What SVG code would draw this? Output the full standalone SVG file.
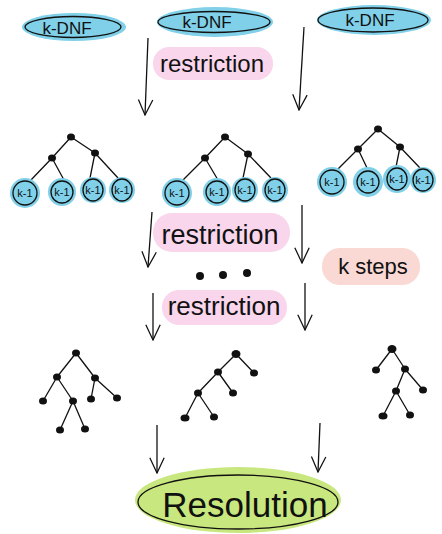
<svg xmlns="http://www.w3.org/2000/svg" width="442" height="534" viewBox="0 0 442 534">
<defs>
<style>
.blue{fill:#7fd0e8}
.pink{fill:#f9d6ec}
.salmon{fill:#fad8d3}
.green{fill:#c8e77e}
.outline{fill:none;stroke:#111;stroke-width:1.3}
.t{font-family:"Liberation Sans",Arial,sans-serif;fill:#111;text-anchor:middle}
.edge{stroke:#111;stroke-width:1.3;fill:none}
.arrow{stroke:#111;stroke-width:1.3;fill:none;marker-end:url(#v)}
.dot{fill:#111}
</style>
<marker id="v" viewBox="0 0 20 20" refX="19" refY="10" markerWidth="18" markerHeight="18" markerUnits="userSpaceOnUse" orient="auto">
<path d="M2,2 L19,10 L2,18" fill="none" stroke="#111" stroke-width="1.4"/>
</marker>
</defs>
<rect width="442" height="534" fill="#fff"/>

<g id="connectors">
<path class="arrow" d="M148,38 L145,115"/>
<path class="arrow" d="M304,27 L299,110"/>
<path class="arrow" d="M152,212 L148,267"/>
<path class="arrow" d="M302,205 L302,263"/>
<path class="arrow" d="M153,293 L153,340"/>
<path class="arrow" d="M305,283 L305,330"/>
<path class="arrow" d="M157,425 L157,473"/>
<path class="arrow" d="M320,423 L318,472"/>
<path class="edge" d="M71,137 L52,158 M71,137 L95,153 M52,158 L30,181 M52,158 L64,180 M95,153 L90,178 M95,153 L118,178"/>
<path class="edge" d="M225,137 L205,158 M225,137 L248,154 M205,158 L182,181 M205,158 L218,180 M248,154 L243,178 M248,154 L271,178"/>
<path class="edge" d="M378,129 L358,149 M378,129 L400,147 M358,149 L337,170 M358,149 L368,170 M400,147 L396,167 M400,147 L420,168"/>
<path class="edge" d="M76,353 L57,377 M76,353 L95,378 M57,377 L43,401 M57,377 L73,401 M95,378 L91,399 M95,378 L117,398 M73,401 L60,430 M73,401 L85,429"/>
<path class="edge" d="M236,354 L218,372 M236,354 L254,373 M218,372 L198,393 M218,372 L233,393 M198,393 L185,418 M198,393 L214,417"/>
<path class="edge" d="M392,349 L376,370 M392,349 L405,369 M405,369 L396,391 M405,369 L423,390 M396,391 L383,416 M396,391 L410,415"/>
</g>

<g id="kdnf1">
<ellipse class="blue" cx="74" cy="27" rx="52" ry="14"/>
<ellipse class="outline" cx="73" cy="27" rx="48" ry="10.5"/>
<text class="t" x="67" y="34" font-size="17">k-DNF</text>
</g>
<g id="kdnf2">
<ellipse class="blue" cx="215" cy="22" rx="58" ry="15"/>
<ellipse class="outline" cx="214" cy="22" rx="56" ry="10.5"/>
<text class="t" x="207" y="28" font-size="17">k-DNF</text>
</g>
<g id="kdnf3">
<ellipse class="blue" cx="374" cy="20" rx="57" ry="15"/>
<ellipse class="outline" cx="373" cy="20" rx="55" ry="12"/>
<text class="t" x="370" y="26" font-size="17">k-DNF</text>
</g>

<g id="restriction1">
<rect class="pink" x="153" y="47" width="120" height="33" rx="16"/>
<text class="t" x="212" y="72" font-size="24">restriction</text>
</g>

<g id="tree1">
<circle class="blue" cx="25" cy="193" r="15"/>
<circle class="blue" cx="62" cy="192" r="14"/>
<circle class="blue" cx="93" cy="190" r="13"/>
<circle class="blue" cx="122" cy="190" r="13"/>
<ellipse class="outline" cx="25" cy="193" rx="12" ry="12"/>
<ellipse class="outline" cx="62" cy="192" rx="11" ry="11"/>
<ellipse class="outline" cx="93" cy="190" rx="10" ry="11"/>
<ellipse class="outline" cx="122" cy="190" rx="10" ry="11"/>
<text class="t" x="25" y="197" font-size="11">k-1</text>
<text class="t" x="62" y="196" font-size="11">k-1</text>
<text class="t" x="93" y="194" font-size="11">k-1</text>
<text class="t" x="122" y="194" font-size="11">k-1</text>
<ellipse class="dot" cx="71" cy="137" rx="4" ry="3.5"/>
<ellipse class="dot" cx="52" cy="158" rx="4" ry="3.5"/>
<ellipse class="dot" cx="95" cy="153" rx="4" ry="3.5"/>
</g>
<g id="tree2">
<circle class="blue" cx="177" cy="193" r="15"/>
<circle class="blue" cx="217" cy="192" r="14"/>
<circle class="blue" cx="245" cy="190" r="13"/>
<circle class="blue" cx="275" cy="190" r="13"/>
<ellipse class="outline" cx="177" cy="193" rx="12" ry="12"/>
<ellipse class="outline" cx="217" cy="192" rx="11" ry="11"/>
<ellipse class="outline" cx="245" cy="190" rx="10" ry="11"/>
<ellipse class="outline" cx="275" cy="190" rx="10" ry="11"/>
<text class="t" x="177" y="197" font-size="11">k-1</text>
<text class="t" x="217" y="196" font-size="11">k-1</text>
<text class="t" x="245" y="194" font-size="11">k-1</text>
<text class="t" x="275" y="194" font-size="11">k-1</text>
<ellipse class="dot" cx="225" cy="137" rx="4" ry="3.5"/>
<ellipse class="dot" cx="205" cy="158" rx="4" ry="3.5"/>
<ellipse class="dot" cx="248" cy="154" rx="4" ry="3.5"/>
</g>
<g id="tree3">
<circle class="blue" cx="332" cy="182" r="15"/>
<circle class="blue" cx="368" cy="182" r="15"/>
<circle class="blue" cx="397" cy="179" r="14"/>
<circle class="blue" cx="423" cy="180" r="13"/>
<ellipse class="outline" cx="332" cy="182" rx="12" ry="12"/>
<ellipse class="outline" cx="368" cy="182" rx="11" ry="11"/>
<ellipse class="outline" cx="397" cy="179" rx="10" ry="11"/>
<ellipse class="outline" cx="423" cy="180" rx="10" ry="11"/>
<text class="t" x="332" y="186" font-size="11">k-1</text>
<text class="t" x="368" y="186" font-size="11">k-1</text>
<text class="t" x="397" y="183" font-size="11">k-1</text>
<text class="t" x="423" y="184" font-size="11">k-1</text>
<ellipse class="dot" cx="378" cy="129" rx="4" ry="3.5"/>
<ellipse class="dot" cx="358" cy="149" rx="4" ry="3.5"/>
<ellipse class="dot" cx="400" cy="147" rx="4" ry="3.5"/>
</g>

<g id="restriction2">
<rect class="pink" x="153" y="213" width="137" height="39" rx="19"/>
<text class="t" x="220" y="244" font-size="27">restriction</text>
</g>
<g id="ksteps">
<rect class="salmon" x="322" y="248" width="98" height="37" rx="18"/>
<text class="t" x="373" y="274" font-size="22">k steps</text>
</g>
<g id="ellipsis">
<circle class="dot" cx="200" cy="276" r="4"/>
<circle class="dot" cx="223" cy="275" r="4"/>
<circle class="dot" cx="247" cy="273" r="4"/>
</g>
<g id="restriction3">
<rect class="pink" x="162" y="290" width="125" height="35" rx="17"/>
<text class="t" x="224" y="315" font-size="26">restriction</text>
</g>

<g id="treeA">
<ellipse class="dot" cx="76" cy="353" rx="4" ry="3.5"/>
<ellipse class="dot" cx="57" cy="377" rx="4" ry="3.5"/>
<ellipse class="dot" cx="95" cy="378" rx="4" ry="3.5"/>
<ellipse class="dot" cx="43" cy="401" rx="4" ry="3.5"/>
<ellipse class="dot" cx="73" cy="401" rx="4" ry="3.5"/>
<ellipse class="dot" cx="91" cy="399" rx="4" ry="3.5"/>
<ellipse class="dot" cx="117" cy="398" rx="4" ry="3.5"/>
<ellipse class="dot" cx="60" cy="430" rx="4" ry="3.5"/>
<ellipse class="dot" cx="85" cy="429" rx="4" ry="3.5"/>
</g>
<g id="treeB">
<ellipse class="dot" cx="236" cy="354" rx="4.5" ry="4"/>
<ellipse class="dot" cx="218" cy="372" rx="4" ry="3.5"/>
<ellipse class="dot" cx="254" cy="373" rx="4" ry="3.5"/>
<ellipse class="dot" cx="198" cy="393" rx="4" ry="3.5"/>
<ellipse class="dot" cx="233" cy="393" rx="4" ry="3.5"/>
<ellipse class="dot" cx="185" cy="418" rx="4.5" ry="3.5"/>
<ellipse class="dot" cx="214" cy="417" rx="4" ry="3.5"/>
</g>
<g id="treeC">
<ellipse class="dot" cx="392" cy="349" rx="4.5" ry="4"/>
<ellipse class="dot" cx="376" cy="370" rx="4" ry="3.5"/>
<ellipse class="dot" cx="405" cy="369" rx="4" ry="3.5"/>
<ellipse class="dot" cx="396" cy="391" rx="4" ry="3.5"/>
<ellipse class="dot" cx="423" cy="390" rx="4" ry="3.5"/>
<ellipse class="dot" cx="383" cy="416" rx="4.5" ry="3.5"/>
<ellipse class="dot" cx="410" cy="415" rx="4" ry="3.5"/>
</g>

<g id="resolution">
<ellipse class="green" cx="238" cy="500" rx="103" ry="33"/>
<ellipse class="outline" cx="238" cy="502" rx="100" ry="27"/>
<text class="t" x="245" y="517" font-size="35">Resolution</text>
</g>
</svg>
